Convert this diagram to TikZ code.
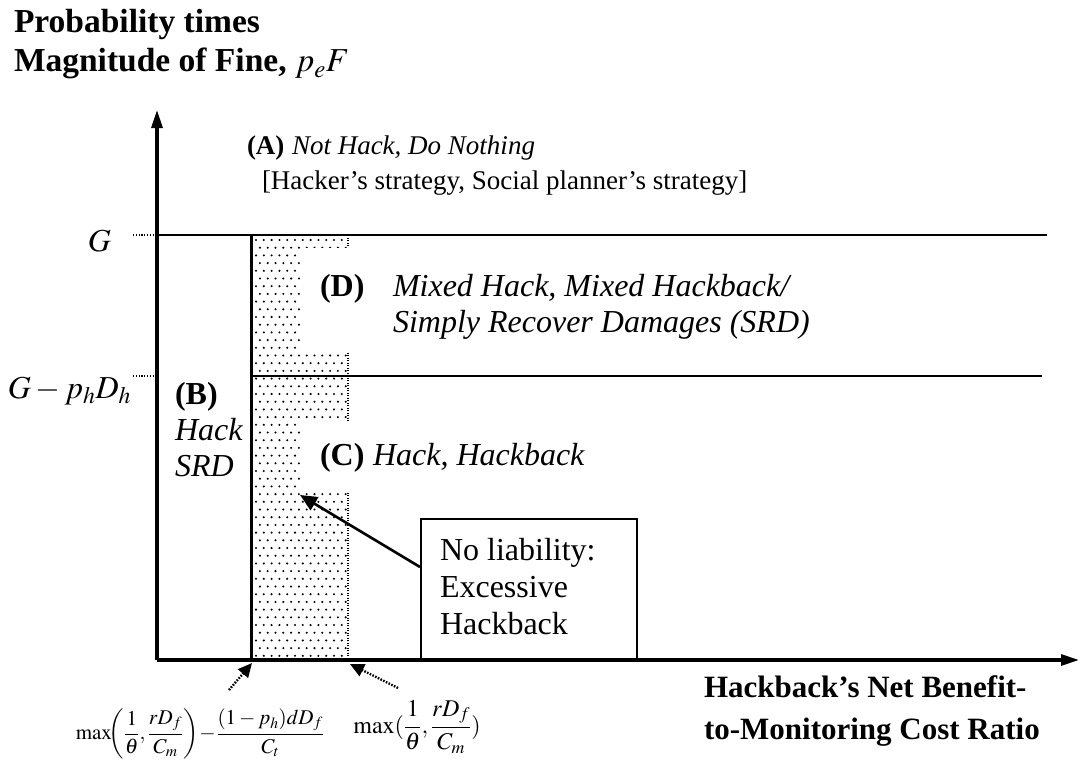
\documentclass[tikz,border=0pt]{standalone}
\usepackage{mathptmx}
\usepackage[no-math]{fontspec}
\setmainfont{Liberation Serif}
\usetikzlibrary{arrows.meta}
\begin{document}
\begin{tikzpicture}[x=1pt,y=-1pt,
  txt/.style={inner sep=0pt, outer sep=0pt, anchor=base west},
  big/.style={font=\fontsize{32}{38}\selectfont},
  ttl/.style={font=\fontsize{33.5}{40}\selectfont},
  xlb/.style={font=\fontsize{31}{38}\selectfont},
  mid/.style={font=\fontsize{27}{32}\selectfont},
  axis/.style={line width=3.2pt, -{Triangle[length=18pt,width=11pt]}},
  hline/.style={line width=2.6pt},
  leader/.style={line width=1.4pt, dash pattern=on 1.2pt off 1.6pt},
  ptr/.style={line width=2.4pt, dash pattern=on 1.6pt off 1.4pt, -{Triangle[length=14pt,width=13pt]}},
  solidptr/.style={line width=2.6pt, -{Triangle[length=17pt,width=15pt]}},
  dot/.style={fill=black}]
\useasboundingbox (0,0) rectangle (1080,768);
% coordinates
\coordinate (O) at (157,660);
\coordinate (ytip) at (157,110);
\coordinate (xtip) at (1079,660);
\coordinate (G0) at (157,235);
\coordinate (G1) at (1047,235);
\coordinate (V0) at (251,235);
\coordinate (V1) at (251,660);
\coordinate (H0) at (251,376);
\coordinate (H1) at (1042,376);
\coordinate (R0) at (348,235);
\coordinate (R1) at (348,660);
% dotted area
\foreach \j in {0,...,54} {
  \pgfmathsetmacro{\off}{mod(\j,2)*3.9}
  \foreach \i in {0,...,11} {
    \fill[dot] (256+\off+7.8*\i, 240+7.7*\j) circle (1.15);
  }
}
\draw[line width=1.1pt, dash pattern=on 1.2pt off 1.3pt] (R0) -- (R1);
% white cut-outs behind labels
\fill[white] (301,248) rectangle (353,352);
\fill[white] (301,422) rectangle (353,493);
% lines
\draw[hline] (G0) -- (G1);
\draw[hline] (H0) -- (H1);
\draw[line width=3pt] (V0) -- (V1);
\draw[axis] (O) -- (ytip);
\draw[axis] (O) -- (xtip);
% leaders
\coordinate (gl) at (133,235);
\coordinate (gpl) at (133,376);
\coordinate (gpr) at (157,376);
\draw[leader] (gl) -- (G0);
\draw[leader] (gpl) -- (gpr);
% title
\node[txt, ttl] (t1) at (14,33) {\textbf{Probability times}};
\node[txt, ttl] (t2) at (14,72) {\textbf{Magnitude of Fine,} $p_eF$};
% axis labels
\node[txt, big, anchor=base east] (gG) at (111,251) {$G$};
\node[txt, big, anchor=base east] (gP) at (131,398) {$G-p_hD_h$};
% region A
\node[txt, mid] (a1) at (247,154) {\textbf{(A)}};
\node[txt, mid] (a2) at (292,154) {\textit{Not Hack, Do Nothing}};
\node[txt, mid] (a3) at (262,189) {[Hacker’s strategy, Social planner’s strategy]};
% region D
\node[txt, big] (d1) at (320,296) {\textbf{(D)}};
\node[txt, big] (d2) at (393,296) {\textit{Mixed Hack, Mixed Hackback/}};
\node[txt, big] (d3) at (393,332) {\textit{Simply Recover Damages (SRD)}};
% region B
\node[txt, big] (b1) at (175,404) {\textbf{(B)}};
\node[txt, big] (b2) at (175,440) {\textit{Hack}};
\node[txt, big] (b3) at (175,476) {\textit{SRD}};
% region C
\node[txt, big] (c1) at (320,465) {\textbf{(C)}};
\node[txt, big] (c2) at (373,465) {\textit{Hack, Hackback}};
% box
\node[draw, line width=2pt, minimum width=216pt, minimum height=142pt, inner sep=0pt, anchor=north west] (box) at (420,518) {};
\node[txt, big] (n1) at (440,560) {No liability:};
\node[txt, big] (n2) at (440,597) {Excessive};
\node[txt, big] (n3) at (440,634) {Hackback};
\coordinate (astart) at (420,567);
\coordinate (atip) at (300,495);
\draw[solidptr] (astart) -- (atip);
% bottom formulas
\node[inner sep=0pt, font=\fontsize{21}{25}\selectfont] (f1) at (200,734)
  {$\displaystyle \mathrm{max}\mskip-5mu\left(\frac{1}{\theta},\frac{rD_f}{C_m}\right)\!-\!\frac{(1-p_h)dD_f}{C_t}$};
\node[inner sep=0pt, font=\fontsize{24}{28}\selectfont] (f2) at (417,727)
  {$\displaystyle \mathrm{max}(\frac{1}{\theta},\frac{rD_f}{C_m})$};
\coordinate (p1s) at (229,690);
\coordinate (p1) at (252,663);
\coordinate (p2s) at (398,688);
\coordinate (p2) at (350,664);
\draw[ptr] (p1s) -- (p1);
\draw[ptr] (p2s) -- (p2);
% x-axis label
\node[txt, xlb] (x1) at (704,697) {\textbf{Hackback’s Net Benefit-}};
\node[txt, xlb] (x2) at (704,739) {\textbf{to-Monitoring Cost Ratio}};
\end{tikzpicture}
\end{document}
